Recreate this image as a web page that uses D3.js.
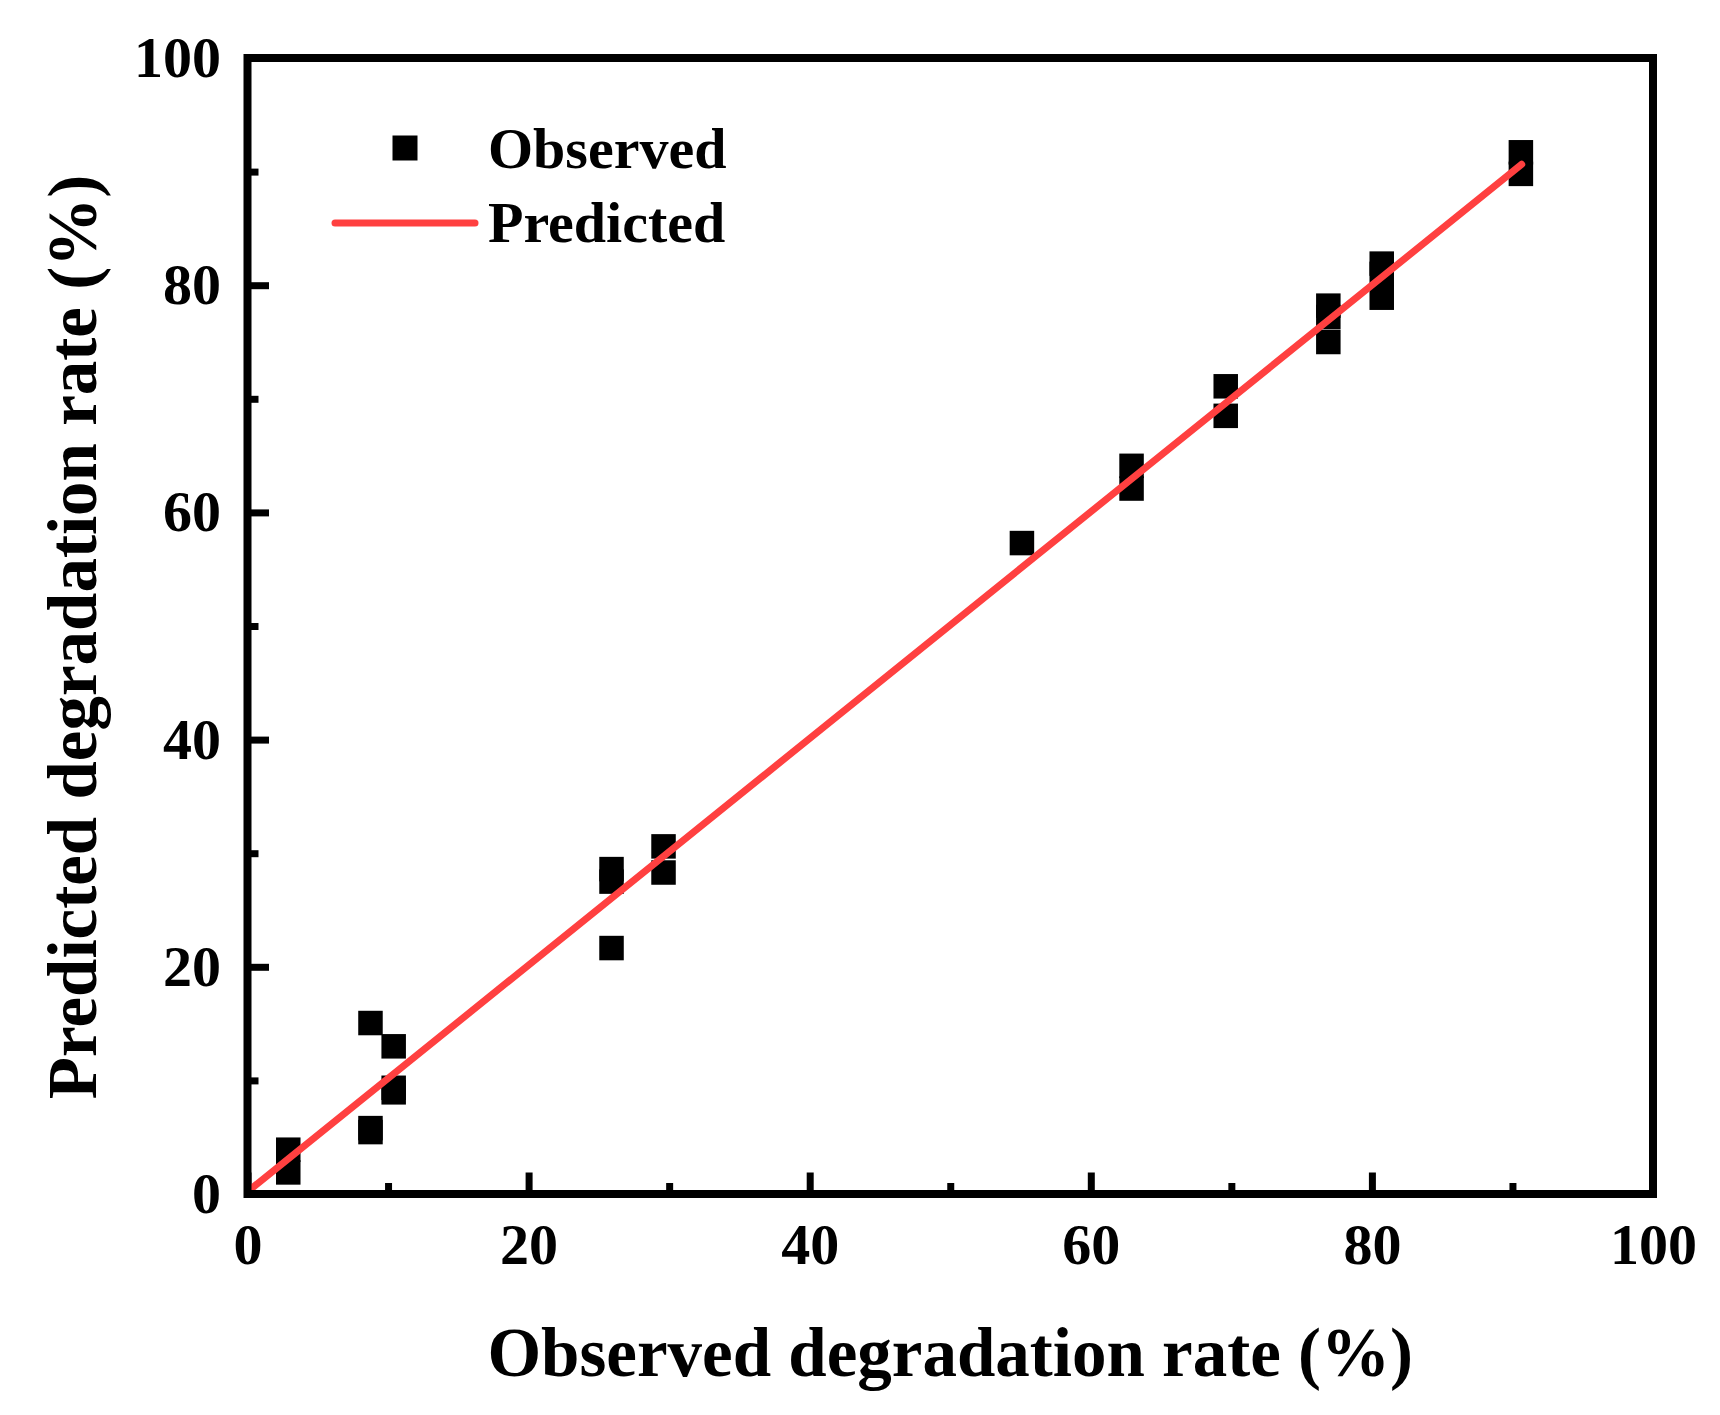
<!DOCTYPE html>
<html>
<head>
<meta charset="utf-8">
<script src="https://cdn.jsdelivr.net/npm/d3@7"></script>
<style>
    body { margin: 0; background: #ffffff; }
    svg { display: block; }
</style>
</head>
<body>
<svg id="grafico" width="1720" height="1415"></svg>
<script>
// dados
var observadoX = [2.9, 2.9, 8.75, 8.75, 8.75, 10.4, 10.4, 10.4, 25.9, 25.9, 25.9, 29.6, 29.6,
    55.1, 62.9, 62.9, 69.6, 69.6, 76.9, 76.9, 76.9, 80.7, 80.7, 80.7, 90.6, 90.6];
var observadoY = [3.9, 1.9, 15.05, 5.8, 5.45, 13.0, 9.35, 8.95, 28.6, 27.5, 21.65, 30.6, 28.3,
    57.3, 64.1, 62.1, 71.1, 68.5, 78.2, 77.2, 75.0, 81.9, 81.0, 78.9, 91.7, 89.8];
var previstoX = [0.3, 90.66];
var previstoY = [0.5, 90.64];

var ticksMaiores = [0, 20, 40, 60, 80, 100];
var ticksMenores = [10, 30, 50, 70, 90];
var legendaTextos = ["Observed", "Predicted"];
var tituloX = "Observed degradation rate (%)";
var tituloY = "Predicted degradation rate (%)";

var fonte = "'Times New Roman', 'Liberation Serif', serif";
var vermelho = "#ff4040";

var svg = d3.select("#grafico"),
    width = +svg.attr("width"),
    height = +svg.attr("height");

svg.append("rect")
    .attr("width", width)
    .attr("height", height)
    .attr("fill", "#ffffff");

var margem = { esq: 247.5, dir: 1653, topo: 58, base: 1194 };

var x = d3.scaleLinear().domain([0, 100]).range([margem.esq, margem.dir]);
var y = d3.scaleLinear().domain([0, 100]).range([margem.base, margem.topo]);

// eixos: ticks para dentro
function estilizarEixo(g) {
    g.select(".domain").remove();
    g.selectAll(".tick line")
        .attr("stroke", "#000")
        .attr("stroke-width", 7);
    g.selectAll(".tick text")
        .attr("fill", "#000")
        .style("font-family", fonte)
        .style("font-weight", "bold")
        .style("font-size", "58px");
}

svg.append("g")
    .attr("transform", "translate(0," + margem.base + ")")
    .call(d3.axisBottom(x).tickValues(ticksMenores).tickSize(-11).tickFormat(""))
    .call(estilizarEixo);

svg.append("g")
    .attr("transform", "translate(0," + margem.base + ")")
    .call(d3.axisBottom(x).tickValues(ticksMaiores).tickSize(-21.5).tickFormat(d3.format("d")))
    .call(estilizarEixo)
    .selectAll(".tick text")
    .attr("y", 70)
    .attr("dy", null);

svg.append("g")
    .attr("transform", "translate(" + margem.esq + ",0)")
    .call(d3.axisLeft(y).tickValues(ticksMenores).tickSize(-11).tickFormat(""))
    .call(estilizarEixo);

svg.append("g")
    .attr("transform", "translate(" + margem.esq + ",0)")
    .call(d3.axisLeft(y).tickValues(ticksMaiores).tickSize(-21.5).tickPadding(26.5).tickFormat(d3.format("d")))
    .call(estilizarEixo);

// pontos observados
var pontos = observadoX.map(function (v, i) { return { x: v, y: observadoY[i] }; });
var lado = 24.5;

svg.append("g")
    .selectAll("rect")
    .data(pontos)
    .enter()
    .append("rect")
    .attr("x", function (d) { return x(d.x) - lado / 2; })
    .attr("y", function (d) { return y(d.y) - lado / 2; })
    .attr("width", lado)
    .attr("height", lado)
    .attr("fill", "#000");

// linha prevista
var linha = d3.line()
    .x(function (d) { return x(d[0]); })
    .y(function (d) { return y(d[1]); });

svg.append("path")
    .datum(previstoX.map(function (v, i) { return [v, previstoY[i]]; }))
    .attr("d", linha)
    .attr("fill", "none")
    .attr("stroke", vermelho)
    .attr("stroke-width", 7)
    .attr("stroke-linecap", "round");

// moldura
svg.append("rect")
    .attr("x", margem.esq)
    .attr("y", margem.topo)
    .attr("width", margem.dir - margem.esq)
    .attr("height", margem.base - margem.topo)
    .attr("fill", "none")
    .attr("stroke", "#000")
    .attr("stroke-width", 8);

// legenda
var legenda = svg.append("g").attr("id", "legenda");

legenda.append("rect")
    .attr("x", 405 - 12.5)
    .attr("y", 148 - 12.5)
    .attr("width", 25)
    .attr("height", 25)
    .attr("fill", "#000");

legenda.append("line")
    .attr("x1", 335)
    .attr("x2", 475)
    .attr("y1", 223)
    .attr("y2", 223)
    .attr("stroke", vermelho)
    .attr("stroke-width", 7)
    .attr("stroke-linecap", "round");

legenda.selectAll("text")
    .data(legendaTextos)
    .enter()
    .append("text")
    .attr("x", 488)
    .attr("y", function (d, i) { return 168 + i * 74; })
    .style("font-family", fonte)
    .style("font-weight", "bold")
    .style("font-size", "58px")
    .attr("fill", "#000")
    .text(function (d) { return d; });

// titulos dos eixos
svg.append("text")
    .attr("x", (margem.esq + margem.dir) / 2)
    .attr("y", 1376)
    .attr("text-anchor", "middle")
    .style("font-family", fonte)
    .style("font-weight", "bold")
    .style("font-size", "69px")
    .attr("fill", "#000")
    .text(tituloX);

svg.append("text")
    .attr("transform", "translate(96,637) rotate(-90)")
    .attr("text-anchor", "middle")
    .style("font-family", fonte)
    .style("font-weight", "bold")
    .style("font-size", "69px")
    .attr("fill", "#000")
    .text(tituloY);
</script>
</body>
</html>
